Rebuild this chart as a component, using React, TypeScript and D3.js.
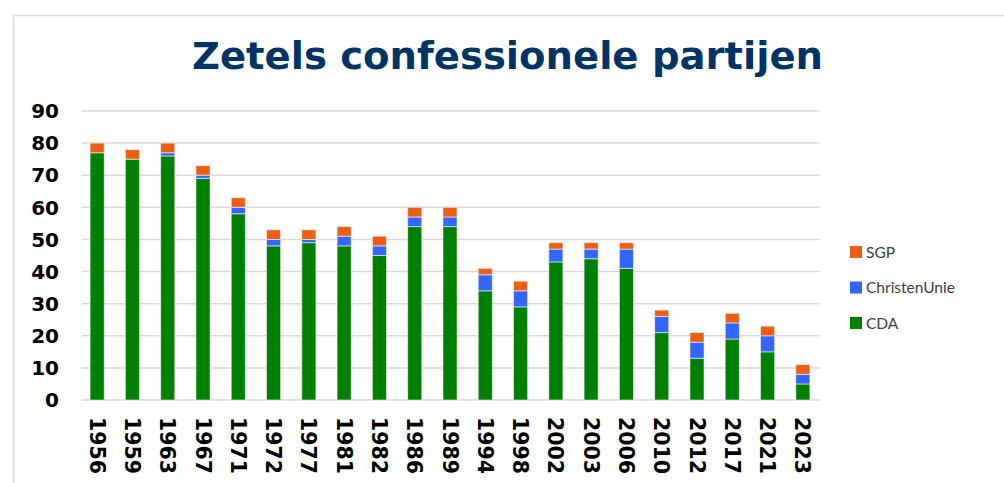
import React from "react";
import * as d3 from "d3";

const years = ["1956","1959","1963","1967","1971","1972","1977","1981","1982","1986","1989","1994","1998","2002","2003","2006","2010","2012","2017","2021","2023"].slice(0, 21);
const cda = [77, 75, 76, 69, 58, 48, 49, 48, 45, 54, 54, 34, 29, 43, 44, 41, 21, 13, 19, 15, 5];
const christenUnie = [0, 0, 1, 1, 2, 2, 1, 3, 3, 3, 3, 5, 5, 4, 3, 6, 5, 5, 5, 5, 3];
const sgp = [3, 3, 3, 3, 3, 3, 3, 3, 3, 3, 3, 2, 3, 2, 2, 2, 2, 3, 3, 3, 3];
const yTicks = [0, 10, 20, 30, 40, 50, 60, 70, 80, 90];
const seriesNames = ["CDA", "ChristenUnie", "SGP"];
const seriesColors = ["#008000", "#3366FF", "#EC5E14"];

export default function App() {
  const W = 1004, H = 483;
  const x = d3.scaleBand<string>().domain(years).range([79.5, 820.5]).paddingInner(0.6).paddingOuter(0.3);
  const y = d3.scaleLinear().domain([0, 90]).range([400, 111]);
  const table = years.map((yr, i) => ({ year: yr, CDA: cda[i], ChristenUnie: christenUnie[i], SGP: sgp[i] }));
  const stack = d3.stack<any>().keys(seriesNames)(table);
  const legendOrder = [2, 1, 0];
  const font = "'DejaVu Sans', Verdana, sans-serif";
  return (
    <svg width={W} height={H} style={{ position: "absolute", left: 0, top: 0, background: "#fff" }}>
      <rect x={13.5} y={15.5} width={1100} height={600} fill="#fff" stroke="#d9d9d9" strokeWidth={1.5} />
      <text x={507.5} y={69} textAnchor="middle" fontFamily={font} fontWeight="bold" fontSize={37} fill="#003366" textLength={631} lengthAdjust="spacingAndGlyphs">Zetels confessionele partijen</text>
      {yTicks.map((t) => (
        <g key={t}>
          <line x1={82} x2={820} y1={y(t)} y2={y(t)} stroke="#d9d9d9" strokeWidth={1.5} />
          <text x={59} y={y(t)} dy="0.36em" textAnchor="end" fontFamily={font} fontWeight="bold" fontSize={20} fill="#000">{t}</text>
        </g>
      ))}
      {stack.map((s, si) => (
        <g key={si} fill={seriesColors[si]}>
          {s.map((d, i) => d[1] - d[0] > 0 ? (
            <rect key={i} x={x(years[i])!} width={x.bandwidth()} y={y(d[1])} height={y(d[0]) - y(d[1])} stroke="rgba(255,255,255,0.55)" strokeWidth={1} />
          ) : null)}
        </g>
      ))}
      {years.map((yr) => (
        <text key={yr} transform={`translate(${x(yr)! + x.bandwidth() / 2},417) rotate(90)`} dy="0.36em" fontFamily={font} fontWeight="bold" fontSize={20.5} fill="#000">{yr}</text>
      ))}
      {legendOrder.map((si, k) => (
        <g key={si} transform={`translate(850,${246 + k * 35.5})`}>
          <rect x={0} y={0} width={12} height={12} fill={seriesColors[si]} />
          <text x={16} y={6} dy="0.36em" fontFamily="Lato, 'Open Sans', sans-serif" fontSize={15.5} fill="#404040">{seriesNames[si]}</text>
        </g>
      ))}
    </svg>
  );
}
